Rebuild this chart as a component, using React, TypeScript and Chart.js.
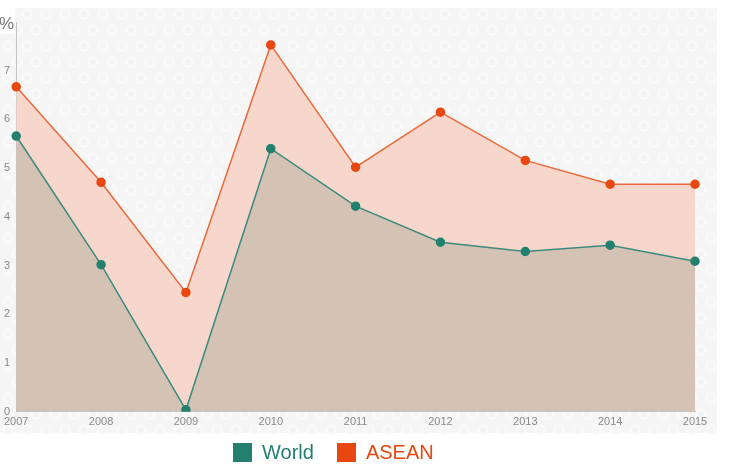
import React, { useEffect, useRef } from "react";
import { Chart, registerables } from "chart.js";

Chart.register(...registerables);

const years = ["2007", "2008", "2009", "2010", "2011", "2012", "2013", "2014", "2015"];
const worldValues = [5.66, 3.02, 0.04, 5.4, 4.22, 3.48, 3.29, 3.42, 3.09];
const aseanValues = [6.67, 4.71, 2.45, 7.53, 5.02, 6.15, 5.16, 4.67, 4.67];
const yTickValues = [0, 1, 2, 3, 4, 5, 6, 7, 8];
const unitLabel = "%";
const seriesNames = ["World", "ASEAN"];

const WORLD_COLOR = "#23806f";
const ASEAN_COLOR = "#e8470f";
const FONT = "Liberation Sans, Arial, sans-serif";

const backgroundPlugin = {
  id: "bgPattern",
  beforeDraw(chart: any) {
    const ctx = chart.ctx;
    ctx.save();
    const x0 = 0, y0 = 8, x1 = 717, y1 = 433;
    ctx.fillStyle = "#f5f5f5";
    ctx.fillRect(x0, y0, x1 - x0, y1 - y0);
    ctx.strokeStyle = "#fafafa";
    ctx.lineWidth = 2;
    let row = 0;
    for (let y = y0 + 6; y < y1; y += 16) {
      for (let x = x0 + 8 + (row % 2) * 9; x < x1 - 4; x += 19) {
        ctx.beginPath();
        ctx.arc(x, y, 4.5, 0, Math.PI * 2);
        ctx.stroke();
      }
      row++;
    }
    ctx.fillStyle = "#ffffff";
    ctx.fillRect(0, 8, 15, 26);
    const yScale = chart.scales.y;
    const yTop = yScale.getPixelForValue(yTickValues[yTickValues.length - 1]);
    ctx.fillStyle = "#777777";
    ctx.font = "17px " + FONT;
    ctx.textAlign = "left";
    ctx.textBaseline = "middle";
    ctx.fillText(unitLabel, -1, yTop + 2);
    ctx.restore();
  },
};

export default function App() {
  const ref = useRef<HTMLCanvasElement | null>(null);
  useEffect(() => {
    if (!ref.current) return;
    const chart = new Chart(ref.current, {
      type: "line",
      data: {
        labels: years,
        datasets: [
          {
            label: seriesNames[0],
            data: worldValues,
            borderColor: "#3d8a7e",
            backgroundColor: "#d4c2b4",
            pointBackgroundColor: WORLD_COLOR,
            pointBorderColor: WORLD_COLOR,
            pointRadius: 4,
            borderWidth: 1.5,
            tension: 0,
            fill: "origin",
            order: 0,
          },
          {
            label: seriesNames[1],
            data: aseanValues,
            borderColor: "#ea6a3c",
            backgroundColor: "#f7d6cb",
            pointBackgroundColor: ASEAN_COLOR,
            pointBorderColor: ASEAN_COLOR,
            pointRadius: 4,
            borderWidth: 1.5,
            tension: 0,
            fill: "-1",
            order: 1,
          },
        ],
      },
      options: {
        animation: false,
        responsive: true,
        maintainAspectRatio: false,
        layout: { padding: { top: 22, right: 57, left: 0, bottom: 39 } },
        plugins: {
          tooltip: { enabled: false },
          legend: { display: false },
        },
        scales: {
          x: {
            offset: false,
            grid: { display: false, drawTicks: false },
            border: { display: true, dash: [3, 3], color: "#c4c4c4", width: 1 },
            ticks: {
              color: "#8a8a8a",
              maxRotation: 0,
              padding: 4,
              font: { size: 11, family: FONT },
            },
          },
          y: {
            min: 0,
            max: 8,
            afterFit: (scale: any) => { scale.width = 16; },
            afterBuildTicks: (scale: any) => {
              scale.ticks = yTickValues.map((v) => ({ value: v }));
            },
            grid: { display: false, drawTicks: false },
            border: { display: true, dash: [3, 3], color: "#c4c4c4", width: 1 },
            ticks: {
              padding: 6,
              callback: (v: any) => (Number(v) === 8 ? "" : String(v)),
              color: "#8a8a8a",
              font: { size: 11, family: FONT },
            },
          },
        },
      },
      plugins: [backgroundPlugin],
    });
    return () => chart.destroy();
  }, []);
  const legendItem = (name: string, color: string) => (
    <div style={{ display: "flex", alignItems: "center" }}>
      <span style={{ display: "inline-block", width: 19, height: 19, background: color, marginRight: 10 }} />
      <span style={{ color, fontSize: 20, fontFamily: FONT, lineHeight: "20px" }}>{name}</span>
    </div>
  );
  return (
    <div style={{ position: "absolute", left: 0, top: 0, width: 752, height: 472, background: "#ffffff" }}>
      <canvas ref={ref} />
      <div
        style={{
          position: "absolute",
          left: 233,
          top: 442,
          display: "flex",
          gap: 23,
        }}
      >
        {legendItem(seriesNames[0], WORLD_COLOR)}
        {legendItem(seriesNames[1], ASEAN_COLOR)}
      </div>
    </div>
  );
}
